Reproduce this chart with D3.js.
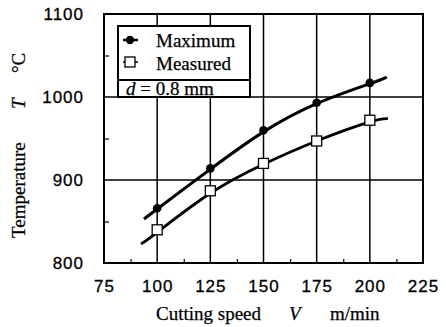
<!DOCTYPE html>
<html>
<head>
<meta charset="utf-8">
<script src="https://cdn.jsdelivr.net/npm/d3@7"></script>
<style>
body { margin: 0; background: #fff; }
.tick-label { font-family: "Liberation Sans", Arial, sans-serif; font-size: 17px; letter-spacing: 1px; stroke: #000; stroke-width: 0.3px; }
.serif { font-family: "Liberation Serif", "Times New Roman", serif; font-size: 19px; stroke: #000; stroke-width: 0.25px; }
</style>
</head>
<body>
<svg id="chart"></svg>
<script>
// data
const speeds = [100, 125, 150, 175, 200];
const maximum = [866, 914, 960, 993, 1017];
const measured = [840, 887, 920, 947, 972];

// fitted curves drawn through/near the points
const maxCurveSpeed = [93.8, 100, 125, 150, 175, 200, 208];
const maxCurveTemp = [853, 865, 913, 958, 992, 1016, 1024];
const measCurveSpeed = [92.4, 100, 125, 150, 175, 200, 208.5];
const measCurveTemp = [823, 837, 884, 919, 947, 970, 974];

const xTicks = [75, 100, 125, 150, 175, 200, 225];
const yTicks = [800, 900, 1000, 1100];
const xMinor = [87.5, 112.5, 137.5, 162.5, 187.5, 212.5];
const yMinor = [850, 950, 1050];

const width = 446, height = 327;
const margin = {top: 14, right: 23, bottom: 64, left: 104};

const svg = d3.select("#chart").attr("width", width).attr("height", height);

const x = d3.scaleLinear().domain([75, 225]).range([margin.left, width - margin.right]);
const y = d3.scaleLinear().domain([800, 1100]).range([height - margin.bottom, margin.top]);

// grid lines
svg.append("g")
	.selectAll("line")
	.data(xTicks.slice(1, -1))
	.join("line")
	.attr("x1", d => x(d)).attr("x2", d => x(d))
	.attr("y1", y(800)).attr("y2", y(1100))
	.attr("stroke", "#000").attr("stroke-width", 1.5);

svg.append("g")
	.selectAll("line")
	.data(yTicks.slice(1, -1))
	.join("line")
	.attr("x1", x(75)).attr("x2", x(225))
	.attr("y1", d => y(d)).attr("y2", d => y(d))
	.attr("stroke", "#000").attr("stroke-width", 1.5);

// minor ticks pointing inward
svg.append("g")
	.attr("transform", "translate(0," + y(800) + ")")
	.call(d3.axisTop(x).tickValues(xMinor).tickSize(4).tickFormat(""))
	.call(g => g.select(".domain").remove())
	.selectAll("line").attr("stroke-width", 1.2);

svg.append("g")
	.attr("transform", "translate(" + x(75) + ",0)")
	.call(d3.axisRight(y).tickValues(yMinor).tickSize(5).tickFormat(""))
	.call(g => g.select(".domain").remove())
	.selectAll("line").attr("stroke-width", 1.2);

// tick labels
svg.append("g")
	.attr("transform", "translate(0," + y(800) + ")")
	.call(d3.axisBottom(x).tickValues(xTicks).tickSize(0).tickPadding(17).tickFormat(d3.format("d")))
	.call(g => g.select(".domain").remove())
	.selectAll("text").attr("class", "tick-label").attr("fill", "#000");

svg.append("g")
	.attr("transform", "translate(" + x(75) + ",0)")
	.call(d3.axisLeft(y).tickValues(yTicks).tickSize(0).tickPadding(20).tickFormat(d3.format("d")))
	.call(g => g.select(".domain").remove())
	.selectAll("text").attr("class", "tick-label").attr("fill", "#000");

// frame
svg.append("rect")
	.attr("x", x(75)).attr("y", y(1100))
	.attr("width", x(225) - x(75)).attr("height", y(800) - y(1100))
	.attr("fill", "none").attr("stroke", "#000").attr("stroke-width", 2);

// curves
const line = d3.line().x(d => x(d[0])).y(d => y(d[1])).curve(d3.curveNatural);

svg.append("path")
	.datum(d3.zip(maxCurveSpeed, maxCurveTemp))
	.attr("d", line)
	.attr("fill", "none").attr("stroke", "#000").attr("stroke-width", 3);

svg.append("path")
	.datum(d3.zip(measCurveSpeed, measCurveTemp))
	.attr("d", line)
	.attr("fill", "none").attr("stroke", "#000").attr("stroke-width", 2.8);

// markers
svg.append("g")
	.selectAll("circle")
	.data(d3.zip(speeds, maximum))
	.join("circle")
	.attr("cx", d => x(d[0])).attr("cy", d => y(d[1]))
	.attr("r", 4.3).attr("fill", "#000");

svg.append("g")
	.selectAll("rect")
	.data(d3.zip(speeds, measured))
	.join("rect")
	.attr("x", d => x(d[0]) - 5).attr("y", d => y(d[1]) - 5)
	.attr("width", 10).attr("height", 10)
	.attr("fill", "#fff").attr("stroke", "#000").attr("stroke-width", 1.3);

// legend
const lg = svg.append("g");
lg.append("rect")
	.attr("x", 118).attr("y", 26).attr("width", 132).attr("height", 71)
	.attr("fill", "#fff").attr("stroke", "#000").attr("stroke-width", 2);
lg.append("line")
	.attr("x1", 118).attr("x2", 250).attr("y1", 80).attr("y2", 80)
	.attr("stroke", "#000").attr("stroke-width", 2);

lg.append("line").attr("x1", 123).attr("x2", 138).attr("y1", 40).attr("y2", 40)
	.attr("stroke", "#000").attr("stroke-width", 2.5);
lg.append("circle").attr("cx", 130).attr("cy", 40).attr("r", 4.2).attr("fill", "#000");
lg.append("text").attr("class", "serif").attr("x", 156).attr("y", 47).text("Maximum");

lg.append("line").attr("x1", 123).attr("x2", 138).attr("y1", 62).attr("y2", 62)
	.attr("stroke", "#000").attr("stroke-width", 1.5);
lg.append("rect").attr("x", 125).attr("y", 57).attr("width", 10).attr("height", 10)
	.attr("fill", "#fff").attr("stroke", "#000").attr("stroke-width", 1.3);
lg.append("text").attr("class", "serif").attr("x", 156).attr("y", 70).text("Measured");

const dt = lg.append("text").attr("class", "serif").attr("x", 126).attr("y", 95);
dt.append("tspan").attr("font-style", "italic").text("d");
dt.append("tspan").text(" = 0.8 mm");

// axis titles
const xt = svg.append("text").attr("class", "serif").attr("y", 320);
xt.append("tspan").attr("x", 156).text("Cutting speed");
xt.append("tspan").attr("x", 289).attr("font-style", "italic").text("V");
xt.append("tspan").attr("x", 330).text("m/min");

const yt = svg.append("text").attr("class", "serif")
	.attr("transform", "translate(25,0) rotate(-90)");
yt.append("tspan").attr("x", -238).text("Temperature");
yt.append("tspan").attr("x", -109).attr("font-style", "italic").text("T");
yt.append("tspan").attr("x", -73).text("°C");
</script>
</body>
</html>
